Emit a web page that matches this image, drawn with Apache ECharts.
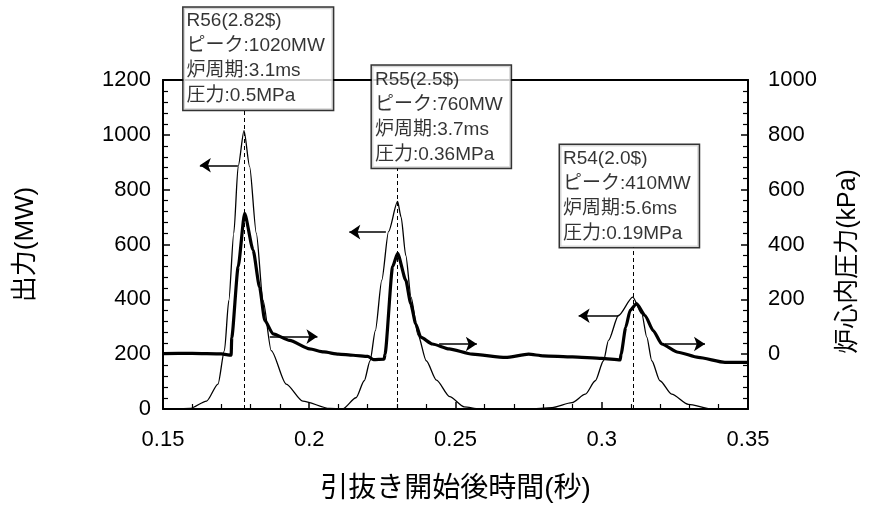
<!DOCTYPE html>
<html lang="ja">
<head>
<meta charset="UTF-8">
<title>出力と炉心内圧力</title>
<script src="https://cdn.jsdelivr.net/npm/echarts@6/dist/echarts.min.js"></script>
<style>
  body { margin: 0; background: #fff; }
  #main { width: 869px; height: 518px; }
</style>
</head>
<body>
<div id="main"></div>
<script>
// 出力 (MW) 細線
var powerT  = [0.150, 0.155, 0.1592, 0.1649, 0.1688, 0.1710, 0.1725, 0.1742, 0.1757, 0.1777,
               0.1796, 0.1819, 0.1842, 0.1870, 0.1921, 0.1978, 0.2069, 0.2114,
               0.2160, 0.2188, 0.2208, 0.2226, 0.2248, 0.2271, 0.2302, 0.2314, 0.2330,
               0.2348, 0.2372, 0.2400, 0.2435, 0.2480, 0.2530, 0.2580, 0.2750,
               0.2830, 0.2898, 0.2944, 0.2978, 0.3006, 0.3023, 0.3057, 0.3106, 0.3137,
               0.3154, 0.3171, 0.3199, 0.3239, 0.3296, 0.3375, 0.350];
var powerMW = [0, 0, 2, 29, 91, 213, 396, 641, 885, 1015,
               885, 641, 396, 213, 91, 29, 2, 0,
               41, 103, 176, 286, 470, 647, 757, 700, 560,
               408, 270, 176, 105, 45, 8, 0, 0,
               5, 23, 54, 103, 176, 250, 341, 408, 347,
               262, 176, 103, 54, 17, 0, 0];

// 炉心内圧力 (kPa) 太線
var presT   = [0.150, 0.160, 0.170, 0.1733, 0.1735, 0.1757, 0.1779, 0.1808, 0.1830, 0.1848,
               0.1876, 0.1933, 0.2001, 0.2050, 0.2100, 0.2150, 0.2200, 0.2220, 0.2256,
               0.2259, 0.2285, 0.2302, 0.2330, 0.2347, 0.2364, 0.2381, 0.2421, 0.2478,
               0.2557, 0.2671, 0.2750, 0.2800, 0.2900, 0.3000, 0.3063, 0.3066, 0.3082,
               0.3097, 0.3119, 0.3148, 0.3176, 0.3205, 0.3261, 0.3330, 0.3421, 0.350];
var presKPa = [2, 3, 1, -4, 60, 319, 514, 380, 245, 123,
               74, 50, 19, 8, 0, -4, -8, -20, -18,
               0, 319, 368, 270, 184, 111, 62, 37, 19,
               0, -12, 0, -6, -10, -15, -21, 0, 98,
               160, 184, 141, 86, 37, 7, -12, -30, -30];

// 注記
var runNames  = ['R56(2.82$)', 'R55(2.5$)', 'R54(2.0$)'];
var peakMW    = [1020, 760, 410];
var periodMs  = [3.1, 3.7, 5.6];
var pressMPa  = [0.5, 0.36, 0.19];
var peakTimes = [0.1778, 0.2302, 0.3106];
var dashTop   = [1090, 878, 589];
var boxAnchor = [[0.1572, 1090], [0.2216, 878], [0.2859, 589]];   // 左下 (秒, MW)
var leftArrows  = [[0.1756, 0.1626, 889], [0.2262, 0.2137, 645], [0.3057, 0.2921, 340]];
var rightArrows = [[0.1865, 0.2028, 64], [0.2444, 0.2573, 37], [0.3216, 0.3353, 37]];

function pairs(xs, ys) {
  return xs.map(function (x, i) { return [x, ys[i]]; });
}

var font = '"Liberation Sans", "Noto Sans CJK JP", sans-serif';
var black = '#000';

var dashLines = peakTimes.map(function (t, i) {
  return { coords: [[t, 0], [t, dashTop[i]]] };
});
var leftArrowLines = leftArrows.map(function (a) {
  return { coords: [[a[0], a[2]], [a[1], a[2]]] };
});
var rightArrowLines = rightArrows.map(function (a) {
  return { coords: [[a[0], a[2]], [a[1], a[2]]] };
});
var boxText = runNames.map(function (name, i) {
  return name + '\nピーク:' + peakMW[i] + 'MW\n炉周期:' + periodMs[i] + 'ms\n圧力:' + pressMPa[i] + 'MPa';
});

var tickStyle = { show: true, inside: true, length: 7, lineStyle: { color: black, width: 1.5 } };
var minorStyle = { show: true, splitNumber: 5, length: 5, lineStyle: { color: black, width: 1.2 } };
var lineStyleAxis = { show: true, onZero: false, lineStyle: { color: black, width: 2 } };

var option = {
  animation: false,
  grid: { left: 163, right: 119, top: 80, bottom: 109 },
  xAxis: [
    {
      type: 'value', min: 0.15, max: 0.35, interval: 0.05, position: 'bottom',
      axisLine: lineStyleAxis, axisTick: tickStyle, minorTick: minorStyle,
      splitLine: { show: false },
      axisLabel: { color: black, fontSize: 22, fontFamily: font, margin: 20 },
      name: '引抜き開始後時間(秒)', nameLocation: 'middle', nameGap: 66,
      nameTextStyle: { color: black, fontSize: 28, fontFamily: font }
    },
    {
      type: 'value', min: 0.15, max: 0.35, interval: 0.05, position: 'top',
      axisLine: lineStyleAxis, axisTick: { show: false }, minorTick: { show: false },
      splitLine: { show: false }, axisLabel: { show: false }
    }
  ],
  yAxis: [
    {
      type: 'value', min: 0, max: 1200, interval: 200, position: 'left',
      axisLine: lineStyleAxis, axisTick: tickStyle, minorTick: minorStyle,
      splitLine: { show: false },
      axisLabel: { color: black, fontSize: 22, fontFamily: font, margin: 12,
                   formatter: function (v) { return String(v); } },
      name: '出力(MW)', nameLocation: 'middle', nameRotate: 90, nameGap: 124,
      nameTextStyle: { color: black, fontSize: 26, fontFamily: font }
    },
    {
      type: 'value', min: -200, max: 1000, interval: 200, position: 'right',
      axisLine: lineStyleAxis, axisTick: tickStyle, minorTick: minorStyle,
      splitLine: { show: false },
      axisLabel: { color: black, fontSize: 22, fontFamily: font, margin: 20,
                   formatter: function (v) { return v < 0 ? '' : String(v); } },
      name: '炉心内圧力(kPa)', nameLocation: 'middle', nameRotate: 90, nameGap: 88,
      nameTextStyle: { color: black, fontSize: 25, fontFamily: font, padding: [0, 34, 0, 0] }
    }
  ],
  series: [
    {
      name: '出力', type: 'line', xAxisIndex: 0, yAxisIndex: 0, showSymbol: false,
      smooth: 0.25, smoothMonotone: 'x',
      data: pairs(powerT, powerMW),
      lineStyle: { color: black, width: 1.3 }
    },
    {
      name: '炉心内圧力', type: 'line', xAxisIndex: 0, yAxisIndex: 1, showSymbol: false,
      smooth: 0.2, smoothMonotone: 'x',
      data: pairs(presT, presKPa),
      lineStyle: { color: black, width: 3.2 }
    },
    {
      name: 'ピーク位置', type: 'lines', coordinateSystem: 'cartesian2d',
      xAxisIndex: 0, yAxisIndex: 0, silent: true, symbol: 'none',
      lineStyle: { color: black, width: 1, type: [4, 3], opacity: 1 },
      data: dashLines
    },
    {
      name: '出力矢印', type: 'lines', coordinateSystem: 'cartesian2d',
      xAxisIndex: 0, yAxisIndex: 0, silent: true,
      symbol: ['none', 'arrow'], symbolSize: 11,
      lineStyle: { color: black, width: 1.5, opacity: 1 },
      data: leftArrowLines
    },
    {
      name: '圧力矢印', type: 'lines', coordinateSystem: 'cartesian2d',
      xAxisIndex: 0, yAxisIndex: 1, silent: true,
      symbol: ['none', 'arrow'], symbolSize: 11,
      lineStyle: { color: black, width: 1.5, opacity: 1 },
      data: rightArrowLines
    },
    {
      name: '注記', type: 'scatter', xAxisIndex: 0, yAxisIndex: 0, silent: true, z: 20,
      symbolSize: 1, itemStyle: { color: 'transparent' },
      data: boxAnchor,
      label: {
        show: true, position: [0, 0], align: 'left', verticalAlign: 'bottom',
        formatter: function (p) { return boxText[p.dataIndex]; },
        color: black, fontSize: 19, fontFamily: font, lineHeight: 25,
        backgroundColor: '#fff', borderColor: black, borderWidth: 1.5,
        padding: [1, 8, 1, 3]
      }
    }
  ]
};

var chart = echarts.init(document.getElementById('main'));
chart.setOption(option);
</script>
</body>
</html>
